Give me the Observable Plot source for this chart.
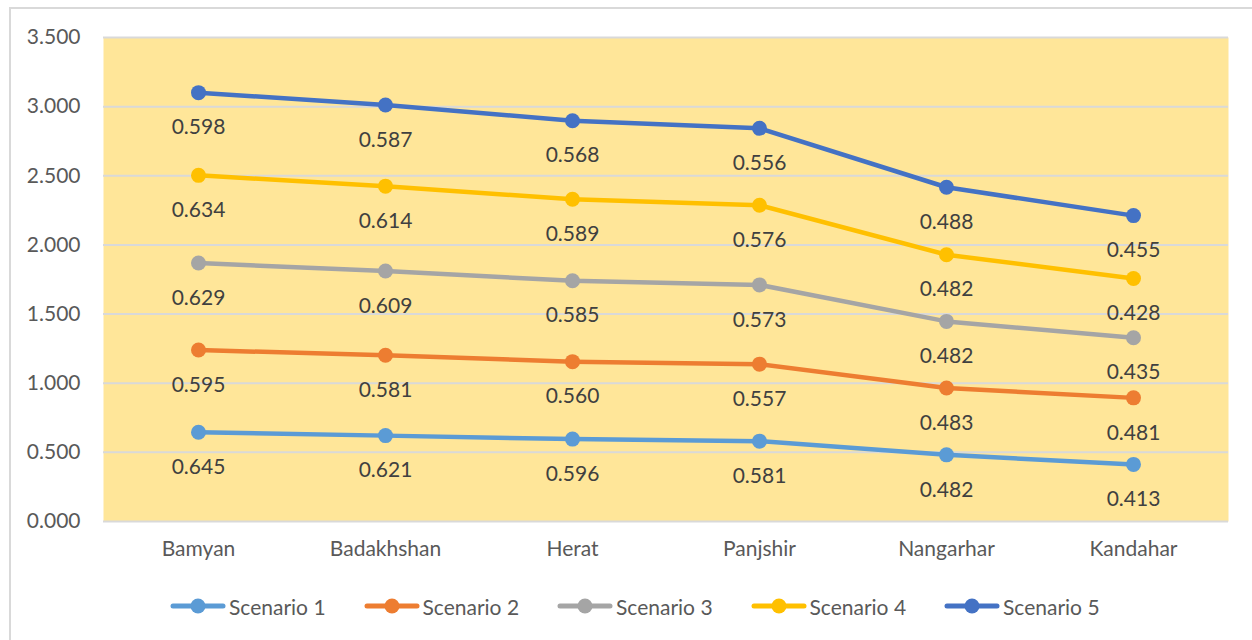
<!DOCTYPE html>
<html>
<head>
<meta charset="utf-8">
<script src="https://cdn.jsdelivr.net/npm/d3@7"></script>
<script src="https://cdn.jsdelivr.net/npm/@observablehq/plot@0.6"></script>
<style>
  html, body { margin: 0; padding: 0; background: #fff; overflow: hidden; }
  body { width: 1252px; height: 640px; position: relative; font-family: Lato, "Noto Sans", sans-serif; }
  #border { position: absolute; left: 9px; top: 7px; width: 1300px; height: 700px; border-left: 2px solid #D9D9D9; border-top: 2px solid #D9D9D9; box-sizing: border-box; }
  #chart { position: absolute; left: 0; top: 0; }
  #legend { position: absolute; left: 170px; top: 590px; display: flex; align-items: center; height: 32px; }
  .item { display: flex; align-items: center; width: 193.5px; font-size: 21px; color: #595959; }
  .item svg { margin-right: 3px; }
</style>
</head>
<body>
<div id="border"></div>
<div id="chart"></div>
<div id="legend"></div>
<script>
const categories = ["Bamyan", "Badakhshan", "Herat", "Panjshir", "Nangarhar", "Kandahar"];
const seriesNames = ["Scenario 1", "Scenario 2", "Scenario 3", "Scenario 4", "Scenario 5"];
const colors = ["#5B9BD5", "#ED7D31", "#A5A5A5", "#FFC000", "#4472C4"];
const scenario1 = [0.645, 0.621, 0.596, 0.581, 0.482, 0.413];
const scenario2 = [0.595, 0.581, 0.560, 0.557, 0.483, 0.481];
const scenario3 = [0.629, 0.609, 0.585, 0.573, 0.482, 0.435];
const scenario4 = [0.634, 0.614, 0.589, 0.576, 0.482, 0.428];
const scenario5 = [0.598, 0.587, 0.568, 0.556, 0.488, 0.455];
const yTicks = [0, 0.5, 1, 1.5, 2, 2.5, 3, 3.5];

const seriesValues = [scenario1, scenario2, scenario3, scenario4, scenario5];
const data = [];
seriesValues.forEach((vals, si) => {
  vals.forEach((v, ci) => data.push({cat: categories[ci], series: seriesNames[si], v}));
});

const stackOpts = {x: "cat", y: "v", z: "series", order: seriesNames};

const chart = Plot.plot({
  width: 1252,
  height: 580,
  marginLeft: 103,
  marginRight: 24,
  marginTop: 37,
  marginBottom: 59,
  style: {fontFamily: "Lato, 'Noto Sans', sans-serif", fontSize: "21px", background: "transparent", overflow: "visible"},
  x: {type: "point", domain: categories, padding: 0.5},
  y: {domain: [0, 3.5]},
  color: {domain: seriesNames, range: colors},
  marks: [
    Plot.frame({fill: "#FFE699", stroke: null}),
    Plot.gridY(yTicks, {stroke: "#D9D9D9", strokeOpacity: 1, strokeWidth: 2}),
    Plot.axisY(yTicks, {tickSize: 0, tickPadding: 23, tickFormat: d3.format(".3f"), fill: "#595959", fontSize: 21, label: null}),
    Plot.axisX({tickSize: 0, tickPadding: 20, fill: "#595959", fontSize: 21, label: null}),
    Plot.lineY(data, Plot.stackY2({...stackOpts, stroke: "series", strokeWidth: 4.5})),
    Plot.dotY(data, Plot.stackY2({...stackOpts, fill: "series", r: 7.5})),
    Plot.text(data, Plot.stackY2({...stackOpts, text: d => d.v.toFixed(3), dy: 35, fill: "#404040", fontSize: 21}))
  ]
});
document.getElementById("chart").appendChild(chart);

const legend = document.getElementById("legend");
seriesNames.forEach((name, i) => {
  const item = document.createElement("div");
  item.className = "item";
  item.innerHTML = `<svg width="56" height="20"><line x1="3" y1="10" x2="53" y2="10" stroke="${colors[i]}" stroke-width="5" stroke-linecap="round"/><circle cx="28" cy="10" r="7.5" fill="${colors[i]}"/></svg><span>${name}</span>`;
  legend.appendChild(item);
});
</script>
</body>
</html>
